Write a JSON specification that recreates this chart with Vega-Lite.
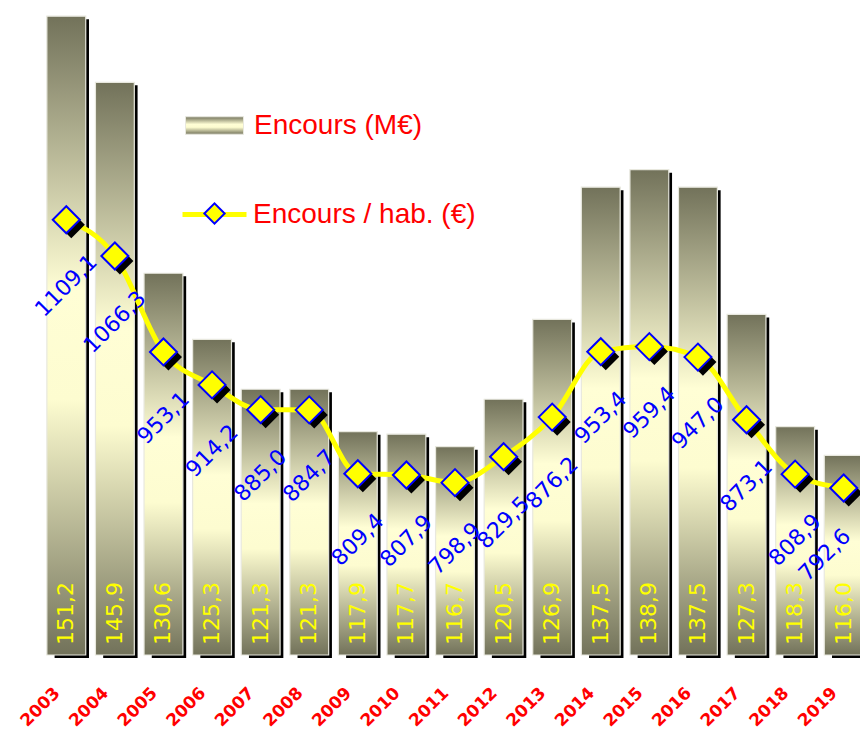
{
  "$schema": "https://vega.github.io/schema/vega-lite/v6.json",
  "width": 826,
  "height": 655,
  "autosize": {"type": "none"},
  "padding": {"left": 42, "top": 0, "right": 0, "bottom": 74},
  "background": "white",
  "config": {
    "view": {"stroke": null},
    "locale": {"number": {"decimal": ",", "thousands": " ", "grouping": [3], "currency": ["", " €"]}}
  },
  "data": {
    "values": [
      {"annee": "2003", "encours": 151.2, "hab": 1109.1},
      {"annee": "2004", "encours": 145.9, "hab": 1066.3},
      {"annee": "2005", "encours": 130.6, "hab": 953.1},
      {"annee": "2006", "encours": 125.3, "hab": 914.2},
      {"annee": "2007", "encours": 121.3, "hab": 885.0},
      {"annee": "2008", "encours": 121.3, "hab": 884.7},
      {"annee": "2009", "encours": 117.9, "hab": 809.4},
      {"annee": "2010", "encours": 117.7, "hab": 807.9},
      {"annee": "2011", "encours": 116.7, "hab": 798.9},
      {"annee": "2012", "encours": 120.5, "hab": 829.5},
      {"annee": "2013", "encours": 126.9, "hab": 876.2},
      {"annee": "2014", "encours": 137.5, "hab": 953.4},
      {"annee": "2015", "encours": 138.9, "hab": 959.4},
      {"annee": "2016", "encours": 137.5, "hab": 947.0},
      {"annee": "2017", "encours": 127.3, "hab": 873.1},
      {"annee": "2018", "encours": 118.3, "hab": 808.9},
      {"annee": "2019", "encours": 116.0, "hab": 792.6}
    ]
  },
  "encoding": {
    "x": {
      "field": "annee",
      "type": "ordinal",
      "scale": {"paddingInner": 0.2, "paddingOuter": 0.1},
      "axis": {
        "title": null,
        "domain": false,
        "ticks": false,
        "grid": false,
        "labelAngle": -45,
        "labelAlign": "right",
        "labelBaseline": "middle",
        "labelColor": "#ff0000",
        "labelFont": "DejaVu Sans",
        "labelFontWeight": "bold",
        "labelFontSize": 17,
        "labelPadding": 35,
        "labelOffset": -9
      }
    }
  },
  "layer": [
    {
      "mark": {"type": "bar", "color": "#000000", "xOffset": 5.5, "yOffset": 3, "y2Offset": 3, "width": {"band": 0.885}},
      "encoding": {
        "y": {"field": "encours", "type": "quantitative", "scale": {"domain": [100, 152.5]}, "axis": null},
        "y2": {"datum": 100}
      }
    },
    {
      "mark": {
        "type": "bar",
        "stroke": "#e8e8de",
        "strokeWidth": 1.2,
        "fill": {"gradient": "linear", "x1": 0, "y1": 0, "x2": 0, "y2": 1, "stops": [{"offset": 0, "color": "#72725a"}, {"offset": 0.43, "color": "#fffed5"}, {"offset": 0.6, "color": "#fdfcd0"}, {"offset": 1, "color": "#72725a"}]}
      },
      "encoding": {
        "y": {"field": "encours", "type": "quantitative", "scale": {"domain": [100, 152.5]}, "axis": null},
        "y2": {"datum": 100},
        "opacity": {
          "datum": "Encours (M€)",
          "type": "nominal",
          "scale": {"range": [1]},
          "legend": {
            "title": null,
            "orient": "none",
            "legendX": 143,
            "legendY": 96,
            "padding": 0,
            "symbolType": "M-1,-0.3H1V0.3H-1Z",
            "symbolSize": 3364,
            "symbolStrokeWidth": 1,
            "labelFont": "Liberation Sans",
            "labelFontSize": 28,
            "labelColor": "#ff0000",
            "labelOffset": 10,
            "labelLimit": 0,
            "encode": {
              "symbols": {
                "fill": {"value": {"gradient": "linear", "x1": 0, "y1": 0, "x2": 0, "y2": 1, "stops": [{"offset": 0, "color": "#b8b898"}, {"offset": 0.5, "color": "#fffed5"}, {"offset": 1, "color": "#8a8a70"}]}},
                "stroke": {"value": "#dddddd"},
                "opacity": {"value": 1}
              }
            }
          }
        }
      }
    },
    {
      "mark": {"type": "text", "angle": 270, "align": "left", "baseline": "middle", "yOffset": -10, "color": "#ffff00", "font": "DejaVu Sans", "fontSize": 22},
      "encoding": {
        "y": {"datum": 100, "type": "quantitative", "scale": {"domain": [100, 152.5]}, "axis": null},
        "text": {"field": "encours", "type": "quantitative", "format": ".1f"}
      }
    },
    {
      "mark": {"type": "line", "interpolate": "monotone", "strokeWidth": 5},
      "encoding": {
        "y": {"field": "hab", "type": "quantitative", "scale": {"domain": [595.5, 1368.4]}, "axis": null},
        "stroke": {
          "datum": "Encours / hab. (€)",
          "scale": {"range": ["#ffff00"]},
          "legend": {
            "title": null,
            "orient": "none",
            "legendX": 138,
            "legendY": 180,
            "padding": 0,
            "zindex": 0,
            "symbolType": "stroke",
            "symbolSize": 4096,
            "symbolStrokeWidth": 5,
            "labelFont": "Liberation Sans",
            "labelFontSize": 28,
            "labelColor": "#ff0000",
            "labelOffset": 4,
            "labelLimit": 0
          }
        }
      }
    },
    {
      "mark": {"type": "point", "shape": "diamond", "filled": true, "color": "#000000", "size": 730, "opacity": 1, "xOffset": 5, "yOffset": 5},
      "encoding": {
        "y": {"field": "hab", "type": "quantitative", "scale": {"domain": [595.5, 1368.4]}, "axis": null}
      }
    },
    {
      "mark": {"type": "point", "filled": true, "fill": "#ffff00", "stroke": "#0000ff", "strokeWidth": 2, "size": 730, "opacity": 1},
      "encoding": {
        "y": {"field": "hab", "type": "quantitative", "scale": {"domain": [595.5, 1368.4]}, "axis": null},
        "shape": {
          "datum": "marqueur",
          "scale": {"range": ["diamond"]},
          "legend": {
            "title": null,
            "orient": "none",
            "legendX": 161,
            "legendY": 202,
            "padding": 0,
            "zindex": 2,
            "symbolSize": 412,
            "symbolStrokeWidth": 2,
            "labelExpr": "''",
            "encode": {
              "symbols": {
                "fill": {"value": "#ffff00"},
                "stroke": {"value": "#0000ff"},
                "strokeWidth": {"value": 2},
                "opacity": {"value": 1}
              }
            }
          }
        }
      }
    },
    {
      "transform": [{"filter": "datum.annee != '2019'"}],
      "mark": {"type": "text", "angle": 315, "align": "center", "baseline": "middle", "yOffset": 66, "color": "#0000ff", "font": "DejaVu Sans", "fontSize": 22},
      "encoding": {
        "y": {"field": "hab", "type": "quantitative", "scale": {"domain": [595.5, 1368.4]}, "axis": null},
        "text": {"field": "hab", "type": "quantitative", "format": ".1f"}
      }
    },
    {
      "transform": [{"filter": "datum.annee == '2019'"}],
      "mark": {"type": "text", "angle": 315, "align": "center", "baseline": "middle", "xOffset": -19, "yOffset": 67, "color": "#0000ff", "font": "DejaVu Sans", "fontSize": 22},
      "encoding": {
        "y": {"field": "hab", "type": "quantitative", "scale": {"domain": [595.5, 1368.4]}, "axis": null},
        "text": {"field": "hab", "type": "quantitative", "format": ".1f"}
      }
    }
  ],
  "resolve": {"scale": {"y": "independent"}}
}
